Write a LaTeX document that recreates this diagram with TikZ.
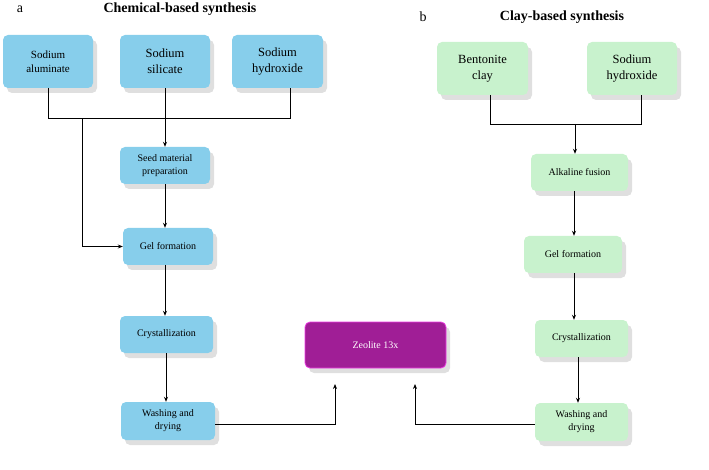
\documentclass[tikz,border=0pt]{standalone}
\usepackage{fontspec}
\setmainfont{Liberation Serif}
\usetikzlibrary{shadows,arrows.meta}
\definecolor{bl}{RGB}{135,206,235}
\definecolor{gr}{RGB}{200,242,205}
\definecolor{zm}{RGB}{160,30,150}
\definecolor{zb}{RGB}{235,60,225}
\begin{document}
\begin{tikzpicture}[x=1pt,y=-1pt,
 box/.style={rounded corners=5pt,align=center,font=\fontsize{10}{13}\selectfont,inner sep=1pt,
   drop shadow={shadow xshift=4pt,shadow yshift=-5pt,fill=gray,opacity=0.25}},
 blue/.style={box,fill=bl},
 green/.style={box,fill=gr},
 big/.style={font=\fontsize{12.5}{16}\selectfont},
 ar/.style={-{Stealth[length=5pt,width=4pt]},thick},
 ln/.style={thick}]
\useasboundingbox (0,0) rectangle (709,470);
\node[font=\fontsize{14}{14}\selectfont] (la) at (20,9) {a};
\node[font=\bfseries\fontsize{14}{14}\selectfont] (ta) at (180,9) {Chemical-based synthesis};
\node[font=\fontsize{14}{14}\selectfont] (lb) at (423,17) {b};
\node[font=\bfseries\fontsize{14}{14}\selectfont] (tb) at (562,17) {Clay-based synthesis};
\node[blue,font=\fontsize{11}{14}\selectfont,minimum width=90pt,minimum height=53pt] (sa) at (48,61.5) {Sodium\\aluminate};
\node[blue,big,minimum width=90pt,minimum height=53pt] (ss) at (165,61.5) {Sodium\\silicate};
\node[blue,big,minimum width=91pt,minimum height=53pt] (sh) at (277.5,61.5) {Sodium\\hydroxide};
\node[blue,minimum width=90pt,minimum height=37pt] (seed) at (165,165.5) {Seed material\\preparation};
\node[blue,minimum width=90pt,minimum height=37pt] (gel) at (168,246.5) {Gel formation};
\node[blue,minimum width=93pt,minimum height=37pt] (cry) at (166.5,334.5) {Crystallization};
\node[blue,minimum width=94pt,minimum height=38pt] (wa) at (168,421) {Washing and\\drying};
\node[box,fill=zm,draw=zb,thick,text=white,minimum width=141pt,minimum height=46pt] (z) at (375.5,345) {Zeolite 13x};
\node[green,big,minimum width=91pt,minimum height=53pt] (bc) at (482.5,68.5) {Bentonite\\clay};
\node[green,big,minimum width=90pt,minimum height=53pt] (nh) at (632,68.5) {Sodium\\hydroxide};
\node[green,minimum width=97pt,minimum height=37pt] (af) at (579.5,172.5) {Alkaline fusion};
\node[green,minimum width=98pt,minimum height=37pt] (gg) at (573,254.5) {Gel formation};
\node[green,minimum width=93pt,minimum height=37pt] (cc) at (581.5,338.5) {Crystallization};
\node[green,minimum width=93pt,minimum height=38pt] (ww) at (581.5,422) {Washing and\\drying};
\draw[ln] (48,88) |- (290,118.5) -- (290,88);
\draw[ar] (ss.south) -- (seed.north);
\draw[ar] (82,118.5) |- (gel.west);
\draw[ar] (seed.south) -- (gel.north -| seed.south);
\draw[ar] (165,265) -- (cry.north -| 165,0);
\draw[ar] (166,353) -- (wa.north -| 166,0);
\draw[ar] (wa.east |- 0,424) -| (335,384);
\draw[ar] (ww.west |- 0,424) -| (415,384);
\draw[ln] (490,95) |- (641,124) -- (641,95);
\draw[ar] (575,124) -- (af.north -| 575,0);
\draw[ar] (574,191) -- (gg.north -| 574,0);
\draw[ar] (574,273) -- (cc.north -| 574,0);
\draw[ar] (578,357) -- (ww.north -| 578,0);
\end{tikzpicture}
\end{document}
